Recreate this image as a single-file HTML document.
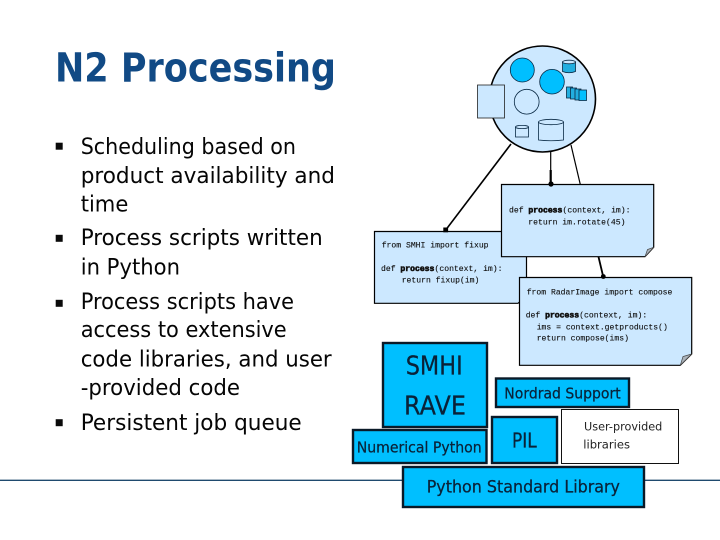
<!DOCTYPE html>
<html><head><meta charset="utf-8"><style>
html,body{margin:0;padding:0;background:#fff}
svg{display:block}
.b{font-family:"DejaVu Sans",sans-serif;font-size:22px;fill:#050505}
.d{font-family:"DejaVu Sans",sans-serif;fill:#0a2238;stroke:#0a2238;stroke-width:.25}
.c{font-family:"Liberation Mono",monospace;font-size:8.1px;fill:#111;stroke:#111;stroke-width:.12;white-space:pre}
.p{font-weight:bold;stroke:#111;stroke-width:.6}
</style></head><body>
<svg width="720" height="540" viewBox="0 0 720 540" xmlns="http://www.w3.org/2000/svg">
<rect width="720" height="540" fill="#fff"/>
<line x1="0" y1="480.3" x2="720" y2="480.3" stroke="#1f4a6e" stroke-width="1.3"/>
<text x="55" y="81.7" textLength="281" lengthAdjust="spacingAndGlyphs" font-family="DejaVu Sans" font-weight="bold" font-size="40" fill="#114a85">N2 Processing</text>

<g fill="#0a0a0a">
<rect x="55.7" y="142.7" width="7" height="7"/><rect x="55.7" y="234.8" width="7" height="7"/><rect x="55.7" y="299.8" width="7" height="7"/><rect x="55.7" y="419.2" width="7" height="7"/>
</g>
<g class="b">
<text x="80.7" y="154" textLength="215.3" lengthAdjust="spacingAndGlyphs">Scheduling based on</text>
<text x="80.7" y="183" textLength="254.3" lengthAdjust="spacingAndGlyphs">product availability and</text>
<text x="80.7" y="211.7" textLength="47.6" lengthAdjust="spacingAndGlyphs">time</text>
<text x="80.7" y="245" textLength="242" lengthAdjust="spacingAndGlyphs">Process scripts written</text>
<text x="80.7" y="274.3" textLength="99.3" lengthAdjust="spacingAndGlyphs">in Python</text>
<text x="80.7" y="309" textLength="213.3" lengthAdjust="spacingAndGlyphs">Process scripts have</text>
<text x="80.7" y="337" textLength="206" lengthAdjust="spacingAndGlyphs">access to extensive</text>
<text x="80.7" y="366.7" textLength="251" lengthAdjust="spacingAndGlyphs">code libraries, and user</text>
<text x="80.7" y="395" textLength="159.3" lengthAdjust="spacingAndGlyphs">-provided code</text>
<text x="80.7" y="430" textLength="221" lengthAdjust="spacingAndGlyphs">Persistent job queue</text>
</g>

<!-- connectors -->
<g stroke="#000" fill="none">
<line x1="511" y1="144" x2="445.7" y2="230" stroke-width="1.6"/>
<line x1="550.7" y1="152" x2="550.7" y2="172" stroke-width="1.2"/>
<line x1="550.7" y1="170" x2="550.7" y2="184" stroke-width="2.2"/>
<line x1="571" y1="145" x2="580.3" y2="184.5" stroke-width="1.2"/>
<line x1="598.3" y1="256" x2="603.3" y2="277" stroke-width="1.8"/>
</g>

<!-- globe -->
<circle cx="542.5" cy="99" r="53" fill="#cce8ff" stroke="#000" stroke-width="1.6"/>
<rect x="477.5" y="85" width="27" height="33" fill="#cce8ff" stroke="#222" stroke-width=".8"/>
<g stroke="#0a2a45" stroke-width=".8">
<circle cx="522.3" cy="70" r="12" fill="#00bfff"/>
<circle cx="552" cy="81.7" r="12.3" fill="#00bfff"/>
<circle cx="526.7" cy="101.7" r="12.4" fill="none"/>
<path d="M562.5 62v9.5q6.5 2.5 13 0V62z" fill="#22aee0"/>
<ellipse cx="569" cy="62" rx="6.5" ry="1.8" fill="#cce8ff"/>
<rect x="566.5" y="87" width="6" height="11" fill="#22aee0"/>
<rect x="570.5" y="88" width="6" height="11" fill="#22aee0"/>
<rect x="575" y="89" width="6" height="11" fill="#22aee0"/>
<rect x="579" y="90" width="7.5" height="10.5" fill="#00bfff"/>
<path d="M515.5 127v10h13v-10" fill="none"/>
<ellipse cx="522" cy="127" rx="6.5" ry="1.6" fill="none"/>
<path d="M538.5 122v18q12.5 1.5 25 0v-18" fill="none"/>
<ellipse cx="551" cy="122" rx="12.5" ry="2.7" fill="none"/>
</g>

<!-- note 2 -->
<path d="M374.5 231.5H526.5V296L518 303.3H374.5Z" fill="#cce8ff" stroke="#000" stroke-width="1.2"/>
<text class="c" x="381.7" y="247.7">from SMHI import fixup</text>
<text class="c" x="381" y="271">def </text><text class="c p" x="400.4" y="271">process</text><text class="c" x="434.5" y="271">(context, im):</text>
<text class="c" x="401.7" y="282.7">return fixup(im)</text>

<!-- note 1 -->
<path d="M501.5 184.5H653.7V247.3L645 256.7H501.5Z" fill="#cce8ff" stroke="#000" stroke-width="1.2"/>
<path d="M645 256.7L647.5 249.5L653.7 247.3Z" fill="#aab2ba" stroke="#444" stroke-width=".7"/>
<text class="c" x="509" y="212.7">def </text><text class="c p" x="528.4" y="212.7">process</text><text class="c" x="562.5" y="212.7">(context, im):</text>
<text class="c" x="528.3" y="224.3">return im.rotate(45)</text>

<!-- note 3 -->
<path d="M519.5 277.5H691.7V354L680.3 365.3H519.5Z" fill="#cce8ff" stroke="#000" stroke-width="1.2"/>
<path d="M680.3 365.3L683 356.5L691.7 354Z" fill="#aab2ba" stroke="#444" stroke-width=".7"/>
<text class="c" x="526.7" y="294.7">from RadarImage import compose</text>
<text class="c" x="525.7" y="317.7">def </text><text class="c p" x="545.1" y="317.7">process</text><text class="c" x="579.2" y="317.7">(context, im):</text>
<text class="c" x="536.7" y="329.3">ims = context.getproducts()</text>
<text class="c" x="536.7" y="340.7">return compose(ims)</text>

<!-- dots -->
<g fill="#000">
<rect x="443.3" y="227.5" width="4.8" height="4.8"/>
<circle cx="551" cy="184" r="2.6"/>
<circle cx="603.3" cy="276.5" r="2.4"/>
</g>

<!-- library boxes -->
<g fill="#00bfff" stroke="#0a1a28" stroke-width="2.4">
<rect x="383" y="343" width="104" height="84"/>
<rect x="496" y="378.5" width="133" height="28.5"/>
<rect x="492" y="417" width="65" height="46"/>
<rect x="353" y="430" width="133.5" height="33"/>
<rect x="403" y="467" width="241" height="40"/>
</g>
<rect x="561.5" y="409.5" width="117" height="54" fill="#fff" stroke="#111" stroke-width="1"/>

<text class="d" x="405.7" y="374.3" font-size="26" textLength="57" lengthAdjust="spacingAndGlyphs">SMHI</text>
<text class="d" x="404" y="414.3" font-size="26" textLength="62" lengthAdjust="spacingAndGlyphs">RAVE</text>
<text class="d" x="504.3" y="398.3" font-size="15" textLength="116.4" lengthAdjust="spacingAndGlyphs">Nordrad Support</text>
<text class="d" x="356.7" y="452.7" font-size="15" textLength="125" lengthAdjust="spacingAndGlyphs">Numerical Python</text>
<text class="d" x="512" y="447.7" font-size="20" textLength="24.7" lengthAdjust="spacingAndGlyphs">PIL</text>
<text class="d" x="584" y="430.7" font-size="11.5" textLength="78.3" lengthAdjust="spacingAndGlyphs" style="fill:#222;stroke:none">User-provided</text>
<text class="d" x="583.3" y="448.7" font-size="11.5" textLength="46.7" lengthAdjust="spacingAndGlyphs" style="fill:#222;stroke:none">libraries</text>
<text class="d" x="426.7" y="492.7" font-size="16.5" textLength="193.3" lengthAdjust="spacingAndGlyphs">Python Standard Library</text>
</svg>
</body></html>
